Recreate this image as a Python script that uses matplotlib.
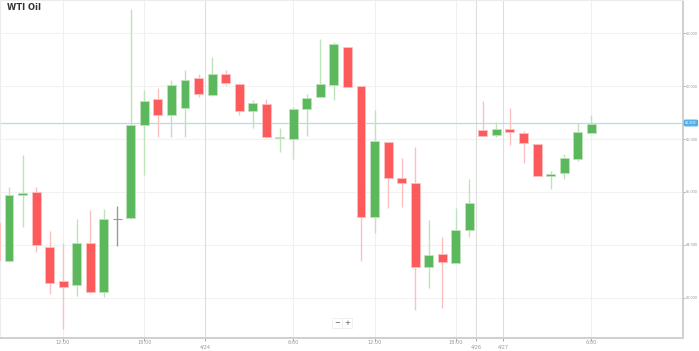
import matplotlib
matplotlib.use("Agg")
import matplotlib.pyplot as plt
import matplotlib.transforms as mtransforms
import numpy as np

# hourly candles, index -1 is the one cut off at the left edge
opens = [64.415, 63.698, 64.943, 65.000, 63.962, 63.321, 63.245, 64.038, 63.113, 64.491,
         64.509, 66.264, 66.755, 66.453, 66.585, 67.150, 66.830, 67.226, 67.038, 66.528,
         66.660, 66.010, 66.000, 66.566, 66.792, 67.019, 67.736, 67.000, 64.528, 65.943,
         65.264, 65.170, 63.585, 63.830, 63.660, 64.283, 66.170, 66.075, 66.189, 66.113,
         65.906, 65.302, 65.358, 65.623, 66.113]
highs = [64.450, 65.094, 65.698, 65.094, 64.264, 64.038, 64.491, 64.660, 64.679, 64.736,
         68.450, 66.925, 66.962, 67.113, 67.300, 67.226, 67.547, 67.300, 67.060, 66.736,
         66.755, 66.208, 66.604, 66.849, 67.887, 67.830, 67.736, 67.000, 66.547, 65.943,
         65.642, 65.849, 64.472, 64.151, 64.698, 65.245, 66.717, 66.321, 66.585, 66.151,
         65.906, 65.396, 65.717, 66.302, 66.453]
lows = [63.700, 63.680, 64.340, 63.868, 63.075, 62.415, 63.038, 63.094, 63.019, 63.981,
        64.491, 65.321, 66.038, 66.038, 66.038, 66.792, 66.811, 67.019, 66.453, 66.208,
        66.019, 65.755, 65.623, 66.057, 66.792, 66.736, 66.981, 63.698, 64.226, 64.698,
        64.717, 62.774, 63.189, 62.811, 63.660, 64.151, 66.038, 66.038, 65.887, 65.547,
        65.302, 65.057, 65.245, 65.585, 66.113]
closes = [63.717, 64.943, 64.981, 64.000, 63.283, 63.208, 64.038, 63.113, 64.491, 64.491,
          66.264, 66.717, 66.453, 67.019, 67.113, 66.849, 67.226, 67.057, 66.528, 66.679,
          66.038, 66.019, 66.566, 66.774, 67.038, 67.790, 66.981, 64.528, 65.962, 65.264,
          65.170, 63.585, 63.811, 63.679, 64.283, 64.792, 66.057, 66.189, 66.132, 65.925,
          65.302, 65.340, 65.642, 66.132, 66.283]

tick_pos = [4, 10, 14.5, 21, 27, 33, 34.5, 36.5, 43]
tick_labels = ["12:00", "18:00", "4/24", "6:00", "12:00", "18:00", "4/26", "4/27", "6:00"]
date_ticks = [14.5, 34.5, 36.5]
y_ticks = [63, 64, 65, 66, 67, 68]
last_price = 66.302

green = "#5cb85c"
red = "#fd5b5b"
green_wick = "#bfe3bb"
red_wick = "#fcc0c0"
gray = "#9a9a9a"

fig = plt.figure(figsize=(6.99, 3.51), dpi=100)
ax = fig.add_axes([0, 13 / 351, 683 / 699, 338 / 351])

idx = np.arange(len(opens)) - 1
for i, o, h, l, c in zip(idx, opens, highs, lows, closes):
    if abs(c - o) < 1e-6:
        col, wcol = gray, gray
    elif c > o:
        col, wcol = green, green_wick
    else:
        col, wcol = red, red_wick
    ax.vlines(i, l, h, color=wcol, lw=1.0, zorder=2)
    bottom = min(o, c)
    height = max(abs(c - o), 0.03)
    if col == gray:
        ax.hlines(o, i - 0.33, i + 0.33, color=gray, lw=0.8, zorder=3)
    else:
        ax.bar(i, height, bottom=bottom, width=0.66, color=col,
               edgecolor=wcol, linewidth=0.6, zorder=3)

ax.set_xlim(-0.665, 49.78)
ax.set_ylim(62.245, 68.623)

for t in y_ticks:
    ax.axhline(t, color="#f2f2f2", lw=0.8, zorder=0)
for t in tick_pos:
    ax.axvline(t, color="#dedede" if t in date_ticks else "#f0f0f0", lw=0.8, zorder=0)

ax.axhline(last_price, color="#b5dbf3", lw=0.9, zorder=1)

ax.yaxis.tick_right()
ax.set_yticks(y_ticks)
ax.set_yticklabels([f"{t:.3f}" for t in y_ticks], fontfamily="Liberation Sans")
ax.set_xticks(tick_pos)
ax.set_xticklabels([])
ax.tick_params(axis="x", length=2.5, width=0.6, colors="#999999")
ax.tick_params(axis="y", labelsize=2.8, colors="#999999", length=1.5, width=0.6, pad=0.6)

# x labels: times on the first row, dates a bit lower
trans = mtransforms.blended_transform_factory(ax.transData, ax.transAxes)
for t, lab in zip(tick_pos, tick_labels):
    yrow = -9 / 338 if t in date_ticks else -4.5 / 338
    ax.text(t, yrow, lab, transform=trans, fontsize=3.6, color="#999999",
            ha="center", va="center", clip_on=False)

for side in ["top", "left"]:
    ax.spines[side].set_color("#ececec")
    ax.spines[side].set_linewidth(0.8)
for side in ["bottom", "right"]:
    ax.spines[side].set_color("#cfcfcf")
    ax.spines[side].set_linewidth(1.4)

ax.annotate(f"{last_price:.3f}", xy=(1.003, last_price), xycoords=("axes fraction", "data"),
            ha="left", va="center", fontsize=2.7, color="white", fontfamily="Liberation Sans",
            bbox=dict(boxstyle="round,pad=0.2,rounding_size=0.25", fc="#56aee8", ec="#56aee8"))

fig.text(7 / 699, 1 - 8 / 351, "WTI Oil", fontsize=6, fontweight="bold", color="#333333",
         ha="left", va="center")

for xb, s in [(337, "\u2212"), (347, "+")]:
    fig.text(xb / 699, 1 - 323 / 351, s, fontsize=5, color="#555555", ha="center", va="center",
             bbox=dict(boxstyle="square,pad=0.3", fc="white", ec="#eeeeee", lw=0.6))

fig.savefig("out.png", dpi=100)
